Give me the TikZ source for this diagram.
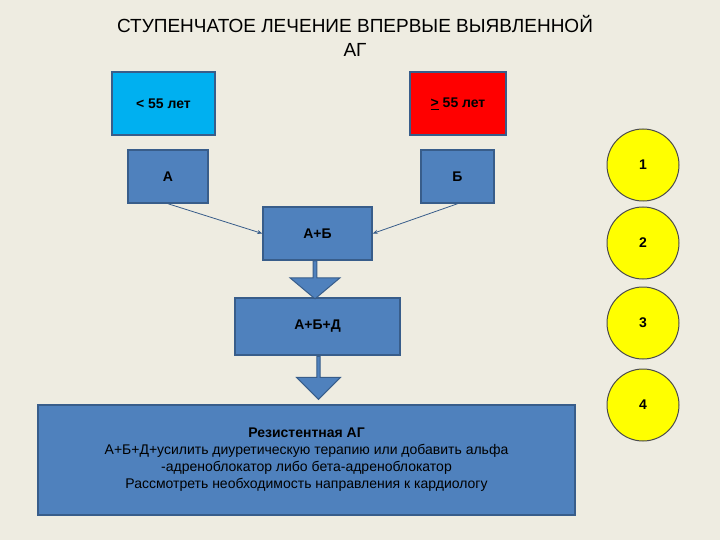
\documentclass[tikz,border=0pt]{standalone}
\usepackage{fontspec}
\setmainfont{Liberation Sans}
\usetikzlibrary{shapes.arrows,arrows.meta}
\definecolor{bg}{RGB}{238,236,225}
\definecolor{bfill}{RGB}{79,129,189}
\definecolor{bline}{RGB}{56,93,138}
\definecolor{cyanb}{RGB}{0,176,240}
\definecolor{circ}{RGB}{255,255,0}
\begin{document}
\begin{tikzpicture}[x=1pt,y=-1pt,
  bx/.style={draw=bline,line width=1.5pt,fill=bfill,inner sep=0pt,font=\bfseries\fontsize{14}{16}\selectfont},
  num/.style={circle,draw=black!70,line width=1pt,fill=circ,minimum size=72pt,inner sep=0pt,font=\bfseries\fontsize{14}{16}\selectfont},
  conn/.style={draw=bline,line width=0.8pt,-{Stealth[length=5pt,width=4pt]}},
  barrow/.style={single arrow,shape border rotate=270,draw=bline,line width=1pt,fill=bfill,single arrow head extend=6pt,inner sep=0pt}]
\fill[bg] (0,0) rectangle (720,540);
\useasboundingbox (0,0) rectangle (720,540);
\node[font=\fontsize{19}{24}\selectfont,align=center] (title) at (355,36) {СТУПЕНЧАТОЕ ЛЕЧЕНИЕ ВПЕРВЫЕ ВЫЯВЛЕННОЙ\\АГ};
\node[bx,fill=cyanb,minimum width=103pt,minimum height=63pt] (young) at (163.5,103.5) {< 55 лет};
\node[bx,fill=red,minimum width=96pt,minimum height=63pt] (old) at (458,103.5) {\underline{>} 55 лет};
\node[bx,minimum width=80pt,minimum height=53pt] (a) at (168,176.5) {А};
\node[bx,minimum width=73pt,minimum height=53pt] (b) at (457.5,176.5) {Б};
\node[bx,minimum width=109pt,minimum height=53pt] (ab) at (317.5,233.5) {А+Б};
\node[bx,minimum width=165pt,minimum height=57pt] (abd) at (317.5,326.5) {А+Б+Д};
\node[bx,font=\fontsize{14}{17}\selectfont,align=center,minimum width=537pt,minimum height=110pt] (res) at (306.5,460)
 {\textbf{Резистентная АГ}\\А+Б+Д+усилить диуретическую терапию или добавить альфа\\-адреноблокатор либо бета-адреноблокатор\\Рассмотреть необходимость направления к кардиологу};
\draw[conn] (a.south) -- (ab.west);
\draw[conn] (b.south) -- (ab.east);
\node[barrow,minimum width=50pt,minimum height=38pt,single arrow tip angle=100] (ar1) at (315,279) {};
\node[barrow,minimum width=44pt,minimum height=43pt] (ar2) at (318.5,377) {};
\node[num] (c1) at (643,165) {1};
\node[num] (c2) at (643,243) {2};
\node[num] (c3) at (643,323) {3};
\node[num] (c4) at (643,405) {4};
\end{tikzpicture}
\end{document}
